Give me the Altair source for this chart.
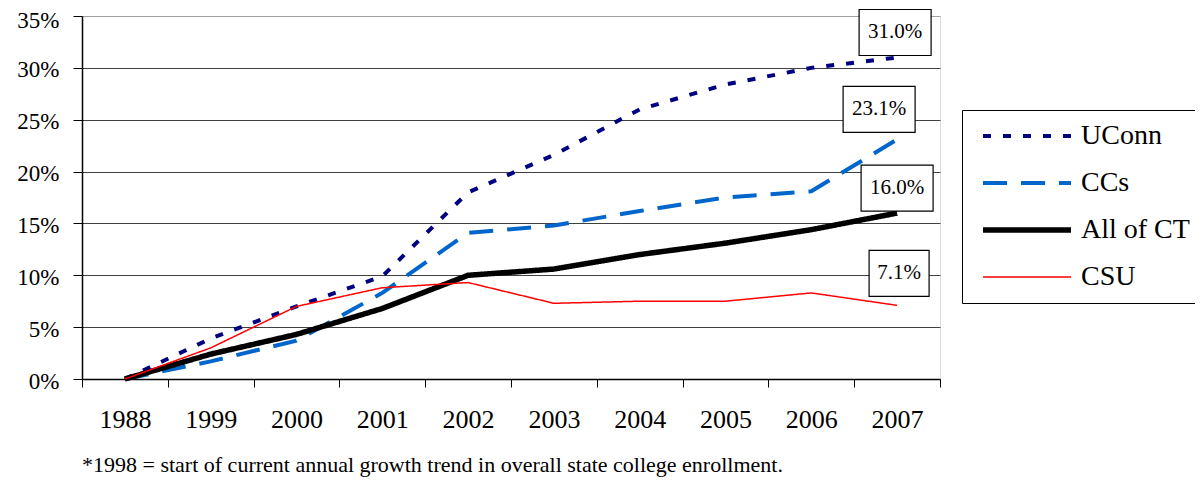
import altair as alt
import pandas as pd

years = ["1988", "1999", "2000", "2001", "2002", "2003", "2004", "2005", "2006", "2007"]
series_names = ["UConn", "CCs", "All of CT", "CSU"]
uconn = [0, 3.9, 7.0, 9.9, 18.0, 21.6, 26.0, 28.4, 30.0, 31.0]
ccs = [0, 1.7, 3.7, 8.3, 14.1, 14.8, 16.2, 17.5, 18.1, 23.1]
allct = [0, 2.4, 4.3, 6.8, 10.0, 10.6, 12.0, 13.1, 14.4, 16.0]
csu = [0, 3.0, 7.0, 8.8, 9.3, 7.3, 7.5, 7.5, 8.3, 7.1]
end_labels = ["31.0%", "23.1%", "16.0%", "7.1%"]
y_ticks = [0, 5, 10, 15, 20, 25, 30, 35]
footnote = "*1998 = start of current annual growth trend in overall state college enrollment."

rows = []
for name, vals in zip(series_names, [uconn, ccs, allct, csu]):
    for yr, v in zip(years, vals):
        rows.append({"year": yr, "series": name, "pct": v})
df = pd.DataFrame(rows)

end_df = pd.DataFrame({
    "year": [years[-1]] * 4,
    "series": series_names,
    "pct": [uconn[-1], ccs[-1], allct[-1], csu[-1]],
    "label": end_labels,
})

FONT = "Liberation Serif, Times New Roman, Times, DejaVu Serif, serif"
colors = ["#000080", "#0066CC", "#000000", "#FF0000"]
dashes = [[8, 12], [24, 14], [1, 0], [1, 0]]
widths = [4, 4, 5.5, 1.5]

x_enc = alt.X(
    "year:O", sort=years,
    scale=alt.Scale(type="band", paddingInner=0, paddingOuter=0),
    axis=alt.Axis(title=None, labelAngle=0, tickBand="extent", tickSize=8,
                  labelPadding=19, labelFontSize=26, labelFont=FONT,
                  labelColor="black", domainColor="black", domainWidth=1.5,
                  tickColor="black", grid=False),
)
y_enc = alt.Y(
    "pct:Q", scale=alt.Scale(domain=[0, 35], nice=False),
    axis=alt.Axis(title=None, values=y_ticks, labelExpr="datum.value + '%'",
                  tickSize=9, labelPadding=14, labelFontSize=23, labelFont=FONT,
                  labelOffset={"condition": {"test": "datum.value == 35", "value": 4},
                               "value": 2},
                  labelColor="black", domainColor="black", domainWidth=1.5,
                  tickColor="black", grid=True,
                  gridColor={"condition": {"test": "datum.value == 35", "value": "#a0a0a0"},
                             "value": "#404040"},
                  gridWidth=1),
)

legend = alt.Legend(
    title=None, orient="none", legendX=880, legendY=94,
    symbolType="M-0.4545,0L7.5455,0", symbolSize=484, labelOffset=79,
    labelFont=FONT, labelFontSize=28, labelColor="black",
    rowPadding=19, padding=12, strokeColor="black", fillColor="white",
)

lines = alt.Chart(df).mark_line(strokeCap="butt").encode(
    x=x_enc, y=y_enc,
    color=alt.Color("series:N", sort=series_names,
                    scale=alt.Scale(domain=series_names, range=colors), legend=legend),
    strokeDash=alt.StrokeDash("series:N", sort=series_names,
                              scale=alt.Scale(domain=series_names, range=dashes), legend=legend),
    strokeWidth=alt.StrokeWidth("series:O", sort=series_names,
                                scale=alt.Scale(type="ordinal", domain=series_names, range=widths),
                                legend=legend),
)

offsets = {"UConn": (-2, -25, 72), "CCs": (-18, -30, 72), "All of CT": (0, -25, 72), "CSU": (2, -32, 60)}
layers = [lines]
for name in series_names:
    dx, dy, w = offsets[name]
    hh = 46 / w
    shape = f"M-1,-{hh:.4f}L1,-{hh:.4f}L1,{hh:.4f}L-1,{hh:.4f}Z"
    base = alt.Chart(end_df).transform_filter(alt.datum.series == name)
    box = base.mark_point(shape=shape, size=w * w, filled=True, fill="white",
                          stroke="black", strokeWidth=1.2, opacity=1,
                          xOffset=dx, yOffset=dy).encode(
        x=alt.X("year:O", sort=years), y="pct:Q")
    txt = base.mark_text(font=FONT, fontSize=21, color="black",
                         xOffset=dx, yOffset=dy, baseline="middle", align="center").encode(
        x=alt.X("year:O", sort=years), y="pct:Q", text="label:N")
    layers += [box, txt]

chart = alt.layer(*layers).properties(
    width=858, height=363,
    autosize=alt.AutoSizeParams(type="none"),
    padding={"left": 74, "top": 8, "right": 255, "bottom": 98},
    title=alt.TitleParams(footnote, orient="bottom", anchor="start", frame="group",
                          font=FONT, fontSize=22, fontWeight="normal", color="black",
                          offset=23),
).configure_view(stroke="#a0a0a0", strokeWidth=2).configure(font=FONT)

chart.save("out.html", embed_options={"renderer": "svg", "actions": False})
